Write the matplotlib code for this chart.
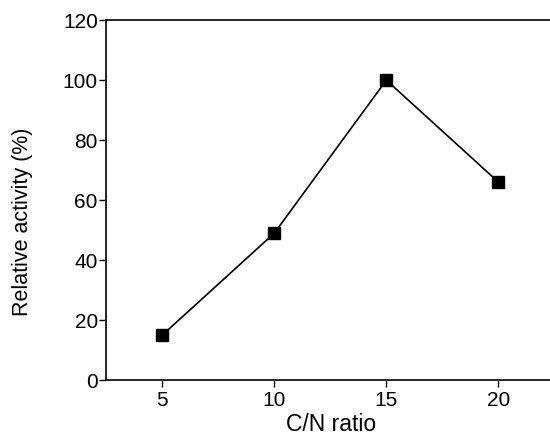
import matplotlib
matplotlib.use('Agg')
import matplotlib.pyplot as plt

cn_ratio = [5, 10, 15, 20]
activity = [15, 49, 100, 66]

plt.rcParams['font.family'] = ['Liberation Sans', 'DejaVu Sans']

fig = plt.figure(figsize=(5.5, 4.38), dpi=100)
ax = fig.add_axes([0.193, 0.132, 0.807, 0.822])
ax.plot(cn_ratio, activity, color='black', linewidth=1.2,
        marker='s', markersize=8.5, markerfacecolor='black')

ax.set_xlim(2.5, 22.3)
ax.set_ylim(0, 120)
ax.set_xticks(cn_ratio)
ax.set_yticks(range(0, 121, 20))
ax.spines['right'].set_visible(False)
for s in ['left', 'bottom', 'top']:
    ax.spines[s].set_linewidth(1.2)
ax.tick_params(direction='out', length=5, width=1, labelsize=15, pad=1)
ax.tick_params(axis='x', pad=3)
ax.set_xlabel('C/N ratio', fontsize=16.5)
ax.set_ylabel('Relative activity (%)', fontsize=15.5)
ax.xaxis.set_label_coords(0.507, -0.09)
ax.yaxis.set_label_coords(-0.165, 0.44)

fig.savefig('out.png', dpi=100)
